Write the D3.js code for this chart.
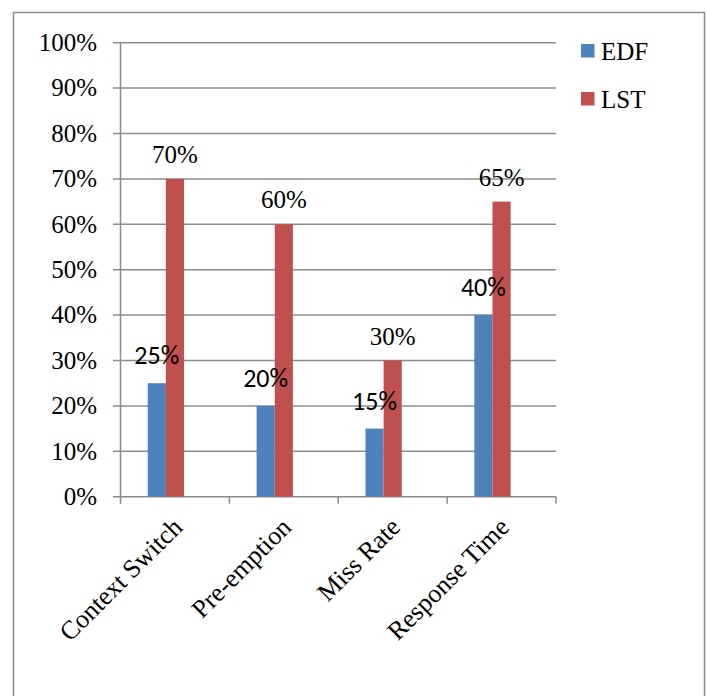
<!DOCTYPE html>
<html>
<head>
<meta charset="utf-8">
<script src="https://cdn.jsdelivr.net/npm/d3@7"></script>
<style>
  body { margin: 0; background: #fff; }
  .serif { font-family: "Times New Roman", "Liberation Serif", Tinos, serif; }
  .sans { font-family: Calibri, Carlito, "Liberation Sans", Arial, sans-serif; }
</style>
</head>
<body>
<svg id="chart"></svg>
<script>
const categories = ["Context Switch", "Pre-emption", "Miss Rate", "Response Time"];
const series = ["EDF", "LST"];
const edfValues = [0.25, 0.20, 0.15, 0.40];
const lstValues = [0.70, 0.60, 0.30, 0.65];
const yTicks = [0, 0.1, 0.2, 0.3, 0.4, 0.5, 0.6, 0.7, 0.8, 0.9, 1.0];
const colors = ["#4F81BD", "#C0504D"];

function main() {
  const width = 707, height = 696;
  const svg = d3.select("#chart").attr("width", width).attr("height", height);

  const rows = categories.map((c, i) => ({ cat: c, EDF: edfValues[i], LST: lstValues[i] }));

  // outer frame
  svg.append("rect")
    .attr("x", 13.5).attr("y", 12.5)
    .attr("width", 691).attr("height", 700)
    .attr("fill", "none").attr("stroke", "#8a8a8a").attr("stroke-width", 1.5);

  const left = 120.5, right = 556, top = 42.7, bottom = 496.7;

  const x = d3.scaleBand().domain(categories).range([left, right]);
  // bars sit a little left of the band centre, like the original
  const xSub = d3.scaleBand().domain(series).range([0, x.bandwidth()]).paddingOuter(2).align(0.375);
  const y = d3.scaleLinear().domain([0, 1]).range([bottom, top]);
  const color = d3.scaleOrdinal(series, colors);

  drawGrid(svg, y, left, right, bottom, top, x);
  drawBars(svg, rows, x, xSub, y, color);
  drawLabels(svg, rows, x, xSub, y);
  drawLegend(svg, color);
}

function drawGrid(svg, y, left, right, bottom, top, x) {
  const g = svg.append("g");
  g.selectAll("line.grid")
    .data(yTicks)
    .join("line")
    .attr("x1", left - 7.5).attr("x2", right)
    .attr("y1", d => y(d)).attr("y2", d => y(d))
    .attr("stroke", "#8c8c8c").attr("stroke-width", 1.5);

  g.append("line")
    .attr("x1", left).attr("x2", left)
    .attr("y1", top).attr("y2", bottom + 7)
    .attr("stroke", "#8c8c8c").attr("stroke-width", 1.5);

  // category boundary ticks
  const bounds = x.domain().map(c => x(c)).concat([x.range()[1]]);
  g.selectAll("line.ctick")
    .data(bounds.slice(1))
    .join("line")
    .attr("x1", d => d).attr("x2", d => d)
    .attr("y1", bottom).attr("y2", bottom + 7)
    .attr("stroke", "#8c8c8c").attr("stroke-width", 1.5);

  g.selectAll("text.ytick")
    .data(yTicks)
    .join("text")
    .attr("class", "serif")
    .attr("x", 97)
    .attr("y", d => y(d))
    .attr("dy", "0.33em")
    .attr("text-anchor", "end")
    .attr("font-size", 25)
    .attr("fill", "#000")
    .text(d3.format(".0%"));

  g.selectAll("text.xcat")
    .data(categories)
    .join("text")
    .attr("class", "serif")
    .attr("transform", d => `translate(${x(d) + x.bandwidth() / 2 + 9},${bottom + 32}) rotate(-45)`)
    .attr("text-anchor", "end")
    .attr("font-size", 26)
    .attr("fill", "#000")
    .text(d => d);
}

function drawBars(svg, rows, x, xSub, y, color) {
  svg.append("g")
    .selectAll("g")
    .data(rows)
    .join("g")
    .attr("transform", d => `translate(${x(d.cat)},0)`)
    .selectAll("rect")
    .data(d => series.map(s => ({ key: s, value: d[s] })))
    .join("rect")
    .attr("x", d => xSub(d.key))
    .attr("width", xSub.bandwidth())
    .attr("y", d => y(d.value))
    .attr("height", d => y(0) - y(d.value))
    .attr("fill", d => color(d.key));
}

function drawLabels(svg, rows, x, xSub, y) {
  const g = svg.append("g");
  // LST labels in serif
  g.selectAll("text.lst")
    .data(rows)
    .join("text")
    .attr("class", "serif")
    .attr("x", d => x(d.cat) + xSub("LST") + xSub.bandwidth() / 2)
    .attr("y", d => y(d.LST) - 16)
    .attr("text-anchor", "middle")
    .attr("font-size", 25)
    .text(d => d3.format(".0%")(d.LST));

  // EDF labels in sans
  g.selectAll("text.edf")
    .data(rows)
    .join("text")
    .attr("class", "sans")
    .attr("x", d => x(d.cat) + xSub("EDF") + xSub.bandwidth() / 2)
    .attr("y", d => y(d.EDF) - 19)
    .attr("text-anchor", "middle")
    .attr("font-size", 26)
    .text(d => d3.format(".0%")(d.EDF));
}

function drawLegend(svg, color) {
  const lg = svg.append("g")
    .selectAll("g")
    .data(series)
    .join("g")
    .attr("transform", (d, i) => `translate(581,${44 + i * 48})`);

  lg.append("rect")
    .attr("width", 13.5).attr("height", 13.5)
    .attr("fill", d => color(d));

  lg.append("text")
    .attr("class", "serif")
    .attr("x", 20)
    .attr("y", 15.5)
    .attr("font-size", 25)
    .text(d => d);
}

main();
</script>
</body>
</html>
